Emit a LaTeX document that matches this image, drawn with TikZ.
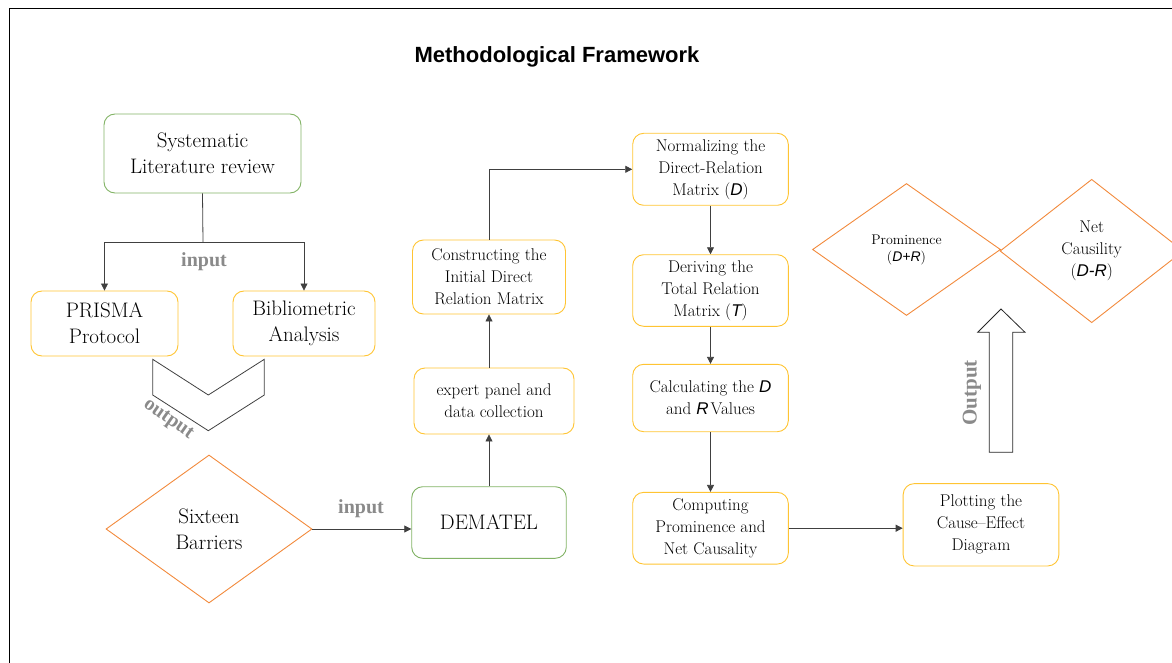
\documentclass[tikz,border=0pt]{standalone}
\usepackage{fontspec}
\newfontfamily\sansf{Liberation Sans}
\newfontfamily\labelf{Liberation Serif}
\usetikzlibrary{shapes.geometric,arrows.meta}

\definecolor{boxgreen}{HTML}{82B366}
\definecolor{boxgold}{HTML}{FFC433}
\definecolor{boxorange}{HTML}{F28A3C}
\definecolor{linegray}{HTML}{404040}
\definecolor{labelgray}{HTML}{8A8A8A}
\newcommand{\mvar}[1]{{\sansf\itshape #1}}

\begin{document}
\begin{tikzpicture}[x=1pt,y=-1pt,
  box/.style={draw, rounded corners=11pt, line width=0.9pt, align=center,
    inner sep=0pt, font=\fontsize{17}{22}\selectfont},
  bigbox/.style={box, font=\fontsize{21}{26}\selectfont},
  greenbox/.style={draw=boxgreen},
  goldbox/.style={draw=boxgold},
  choice/.style={diamond, draw=boxorange, line width=0.9pt, align=center,
    inner sep=0pt},
  conn/.style={draw=linegray, line width=0.8pt},
  arr/.style={conn, -{Triangle[length=7pt,width=7pt]}},
  flowlabel/.style={text=labelgray, font=\labelf\fontsize{20}{24}\selectfont\bfseries},
]
\useasboundingbox (0,0) rectangle (1172,663);
\clip (0,0) rectangle (1172,663);

% outer frame (top and left edges)
\draw[line width=1.2pt] (9.5,663) -- (9.5,8.5) -- (1172,8.5);

% title
\node (title) at (557,57) {\sansf\bfseries\fontsize{22}{26}\selectfont Methodological Framework};

% literature branch
\node[bigbox, greenbox, minimum width=197pt, minimum height=79pt] (slr) at (202.5,153.5)
  {Systematic\\Literature review};
\node[bigbox, goldbox, minimum width=147pt, minimum height=65pt] (prisma) at (104.5,323.5)
  {PRISMA\\Protocol};
\node[bigbox, goldbox, minimum width=142pt, minimum height=65pt] (biblio) at (304,323.5)
  {Bibliometric\\Analysis};
\coordinate (split) at (203,242);
\draw[conn] (slr.south) -- (split);
\draw[arr] (split) -| (prisma.north);
\draw[arr] (split) -| (biblio.north);
\node[flowlabel] (inlabA) at (204,262) {input};

% chevron collecting the two reviews
\draw[draw=linegray, line width=0.8pt, line join=miter]
  (152.7,359.3) -- (152.7,395) -- (208.3,430.7) -- (264.3,395) -- (264.3,359.3)
  -- (208.3,395) -- cycle;
\node[flowlabel, rotate=-35] (outlabA) at (168,420) {output};

% barriers and DEMATEL chain
\node[choice, minimum width=206pt, minimum height=148pt,
  font=\fontsize{21}{26}\selectfont] (barriers) at (209,529) {Sixteen\\Barriers};
\node[bigbox, greenbox, minimum width=154.5pt, minimum height=71.6pt] (dematel) at (489,522.5)
  {DEMATEL};
\draw[arr] (barriers.east) -- (barriers.east -| dematel.west);
\node[flowlabel] (inlabB) at (361,509) {input};

\node[box, goldbox, minimum width=160pt, minimum height=66pt] (expert) at (494,401)
  {expert panel and\\data collection};
\node[box, goldbox, minimum width=153pt, minimum height=74pt] (constr) at (489,277)
  {Constructing the\\Initial Direct\\Relation Matrix};
\draw[arr] (dematel.north) -- (dematel.north |- expert.south);
\draw[arr] (expert.north -| constr.south) -- (constr.south);

\node[box, goldbox, minimum width=155.6pt, minimum height=72pt] (norm) at (710.5,169.3)
  {Normalizing the\\Direct-Relation\\Matrix (\mvar{D})};
\node[box, goldbox, minimum width=155.6pt, minimum height=71.6pt] (deriv) at (710.5,290.5)
  {Deriving the\\Total Relation\\Matrix (\mvar{T})};
\node[box, goldbox, minimum width=155.6pt, minimum height=67.4pt] (calc) at (710.5,398)
  {Calculating the \mvar{D}\\and \mvar{R}\hspace{2pt}Values};
\node[box, goldbox, minimum width=155.6pt, minimum height=71.7pt] (comp) at (710.5,528.2)
  {Computing\\Prominence and\\Net Causality};
\node[box, goldbox, minimum width=155.7pt, minimum height=82.3pt] (plot) at (981,524.8)
  {Plotting the\\Cause--Effect\\Diagram};

\draw[arr] (constr.north) |- (norm.west);
\draw[arr] (norm.south) -- (deriv.north);
\draw[arr] (deriv.south) -- (calc.north);
\draw[arr] (calc.south) -- (comp.north);
\draw[arr] (comp.east) -- (comp.east -| plot.west);

% results
\node[choice, minimum width=188pt, minimum height=132pt,
  font=\fontsize{14}{17}\selectfont] (prom) at (906.5,249.5)
  {Prominence\\(\mvar{D+R})};
\node[choice, minimum width=183.4pt, minimum height=143.4pt,
  font=\fontsize{17}{22}\selectfont] (net) at (1091.7,251)
  {Net\\Causility\\(\mvar{D-R})};

% output block arrow
\draw[draw=black!85, fill=white, line width=0.8pt, line join=miter]
  (1001,309) -- (1025,332.3) -- (1012.7,332.3) -- (1012.7,452.3)
  -- (989.3,452.3) -- (989.3,332.3) -- (977.7,332.3) -- cycle;
\node[text=labelgray, rotate=90, font=\labelf\fontsize{21}{25}\selectfont\bfseries]
  (outlabB) at (972,393) {Output};
\end{tikzpicture}
\end{document}
